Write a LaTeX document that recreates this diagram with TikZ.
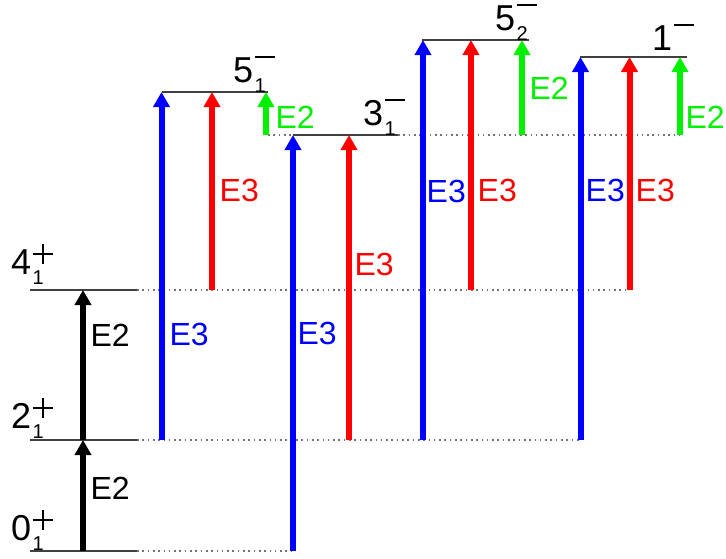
\documentclass[tikz,border=0pt]{standalone}
\usepackage{fontspec}
\setmainfont{Liberation Sans}
\usetikzlibrary{arrows.meta}
\definecolor{eblue}{RGB}{0,0,255}
\definecolor{ered}{RGB}{255,0,0}
\definecolor{egreen}{RGB}{0,240,0}
\newcommand\spinlab[3]{{\fontsize{36}{36}\selectfont #1}\hspace{1.5pt}\rlap{\raisebox{-10pt}{\fontsize{20}{20}\selectfont #2}}#3}
\newcommand\upplus{\rule[18.9pt]{20pt}{2.2pt}\hspace{-11.1pt}\rule[10pt]{2.2pt}{20pt}\hspace{8.9pt}}
\newcommand\upminus{\rule[24pt]{20pt}{2.2pt}}
\tikzset{
  trans/.style={line width=6pt, -{Triangle[width=16pt,length=15pt]}},
  lvl/.style={line width=1.2pt, draw=black!75},
  guide/.style={line width=1.1pt, draw=black!55, dash pattern=on 1.6pt off 3.7pt},
  lab/.style={font=\fontsize{32}{32}\selectfont, anchor=west, inner sep=0pt},
  spin/.style={inner sep=0pt, anchor=base west},
}
\begin{document}
\begin{tikzpicture}[x=1pt,y=-1pt]
\useasboundingbox (0,0) rectangle (726,558);
% level coordinates
\coordinate (L0a) at (30,551);  \coordinate (L0b) at (137,551);  \coordinate (L0c) at (293,551);
\coordinate (L2a) at (30,440);  \coordinate (L2b) at (137,440);  \coordinate (L2c) at (580.5,440);
\coordinate (L4a) at (30,290);  \coordinate (L4b) at (137,290);  \coordinate (L4c) at (629.5,290);
\coordinate (L51a) at (162,92); \coordinate (L51b) at (268,92);
\coordinate (L31g) at (268,135); \coordinate (L31a) at (293,135); \coordinate (L31b) at (398,135); \coordinate (L31c) at (680,135);
\coordinate (L52a) at (422,40); \coordinate (L52b) at (529,40);
\coordinate (L1a) at (580,57);  \coordinate (L1b) at (687,57);
% guide (dotted) lines
\draw[guide] (L0b) -- (L0c);
\draw[guide] (L2b) -- (L2c);
\draw[guide] (L4b) -- (L4c);
\draw[guide] (L31g) -- (L31a);
\draw[guide] (L31b) -- (L31c);
% level lines
\draw[lvl] (L0a) -- (L0b);
\draw[lvl] (L2a) -- (L2b);
\draw[lvl] (L4a) -- (L4b);
\draw[lvl] (L51a) -- (L51b);
\draw[lvl] (L31a) -- (L31b);
\draw[lvl] (L52a) -- (L52b);
\draw[lvl] (L1a) -- (L1b);
% level labels
\node[spin] (s0) at (11,540) {\spinlab{0}{1}{\upplus}};
\node[spin] (s2) at (11,428) {\spinlab{2}{1}{\upplus}};
\node[spin] (s4) at (11,274) {\spinlab{4}{1}{\upplus}};
\node[spin] (s51) at (233,82) {\spinlab{5}{1}{\upminus}};
\node[spin] (s31) at (363,125) {\spinlab{3}{1}{\upminus}};
\node[spin] (s52) at (495,30) {\spinlab{5}{2}{\upminus}};
\node[spin] (s1) at (652,50) {\spinlab{1}{}{\upminus}};
% transitions
\foreach \n/\x/\ya/\yb/\c/\t/\lx/\ly in {
  ka/83/551/440/black/E2/90.4/488,
  kb/83/440/290/black/E2/90.4/335,
  ba/161.5/440/92/eblue/E3/169.4/334,
  ra/212/290/92/ered/E3/219.5/190,
  ga/266/135/92/egreen/E2/275.4/117,
  bb/293/551/135/eblue/E3/297.4/333,
  rb/349/440/135/ered/E3/354.4/264,
  bc/423/440/40/eblue/E3/426.5/191,
  rc/471/290/40/ered/E3/477.5/190,
  gc/522/135/40/egreen/E2/529.4/88,
  bd/580.5/440/57/eblue/E3/585.5/190,
  rd/629.5/290/57/ered/E3/635.5/190,
  gd/680/135/57/egreen/E2/685.4/117}
{
  \coordinate (\n s) at (\x,\ya);
  \coordinate (\n e) at (\x,\yb);
  \draw[trans,draw=\c,fill=\c] (\n s) -- (\n e);
  \node[lab,text=\c] (\n l) at (\lx,\ly) {\t};
}
\end{tikzpicture}
\end{document}
